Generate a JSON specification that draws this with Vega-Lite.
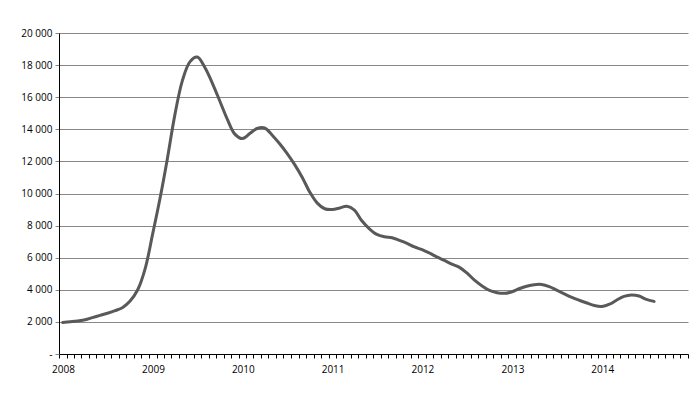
{
  "$schema": "https://vega.github.io/schema/vega-lite/v6.json",
  "width": 629,
  "height": 321,
  "autosize": {"type": "none"},
  "padding": {"left": 59, "top": 33, "right": 12, "bottom": 60},
  "background": "white",
  "config": {
    "view": {"stroke": null},
    "font": "Open Sans"
  },
  "data": {
    "values": [
      {"month": "2008-01-16", "value": 1960},
      {"month": "2008-02-16", "value": 2010},
      {"month": "2008-03-16", "value": 2060},
      {"month": "2008-04-16", "value": 2130},
      {"month": "2008-05-16", "value": 2270},
      {"month": "2008-06-16", "value": 2410},
      {"month": "2008-07-16", "value": 2540},
      {"month": "2008-08-16", "value": 2700},
      {"month": "2008-09-16", "value": 2900},
      {"month": "2008-10-16", "value": 3300},
      {"month": "2008-11-16", "value": 4000},
      {"month": "2008-12-16", "value": 5300},
      {"month": "2009-01-16", "value": 7500},
      {"month": "2009-02-16", "value": 9800},
      {"month": "2009-03-16", "value": 12125},
      {"month": "2009-04-16", "value": 14900},
      {"month": "2009-05-16", "value": 17000},
      {"month": "2009-06-16", "value": 18200},
      {"month": "2009-07-16", "value": 18500},
      {"month": "2009-08-16", "value": 17850},
      {"month": "2009-09-16", "value": 16850},
      {"month": "2009-10-16", "value": 15750},
      {"month": "2009-11-16", "value": 14600},
      {"month": "2009-12-16", "value": 13700},
      {"month": "2010-01-16", "value": 13420},
      {"month": "2010-02-16", "value": 13750},
      {"month": "2010-03-16", "value": 14050},
      {"month": "2010-04-16", "value": 14080},
      {"month": "2010-05-16", "value": 13650},
      {"month": "2010-06-16", "value": 13100},
      {"month": "2010-07-16", "value": 12500},
      {"month": "2010-08-16", "value": 11800},
      {"month": "2010-09-16", "value": 11000},
      {"month": "2010-10-16", "value": 10100},
      {"month": "2010-11-16", "value": 9400},
      {"month": "2010-12-16", "value": 9050},
      {"month": "2011-01-16", "value": 9000},
      {"month": "2011-02-16", "value": 9100},
      {"month": "2011-03-16", "value": 9200},
      {"month": "2011-04-16", "value": 8960},
      {"month": "2011-05-16", "value": 8300},
      {"month": "2011-06-16", "value": 7800},
      {"month": "2011-07-16", "value": 7450},
      {"month": "2011-08-16", "value": 7300},
      {"month": "2011-09-16", "value": 7240},
      {"month": "2011-10-16", "value": 7080},
      {"month": "2011-11-16", "value": 6890},
      {"month": "2011-12-16", "value": 6670},
      {"month": "2012-01-16", "value": 6500},
      {"month": "2012-02-16", "value": 6280},
      {"month": "2012-03-16", "value": 6050},
      {"month": "2012-04-16", "value": 5830},
      {"month": "2012-05-16", "value": 5600},
      {"month": "2012-06-16", "value": 5400},
      {"month": "2012-07-16", "value": 5050},
      {"month": "2012-08-16", "value": 4600},
      {"month": "2012-09-16", "value": 4240},
      {"month": "2012-10-16", "value": 3960},
      {"month": "2012-11-16", "value": 3820},
      {"month": "2012-12-16", "value": 3780},
      {"month": "2013-01-16", "value": 3880},
      {"month": "2013-02-16", "value": 4080},
      {"month": "2013-03-16", "value": 4220},
      {"month": "2013-04-16", "value": 4320},
      {"month": "2013-05-16", "value": 4330},
      {"month": "2013-06-16", "value": 4200},
      {"month": "2013-07-16", "value": 3980},
      {"month": "2013-08-16", "value": 3750},
      {"month": "2013-09-16", "value": 3530},
      {"month": "2013-10-16", "value": 3350},
      {"month": "2013-11-16", "value": 3180},
      {"month": "2013-12-16", "value": 3020},
      {"month": "2014-01-16", "value": 2960},
      {"month": "2014-02-16", "value": 3100},
      {"month": "2014-03-16", "value": 3350},
      {"month": "2014-04-16", "value": 3590},
      {"month": "2014-05-16", "value": 3680},
      {"month": "2014-06-16", "value": 3610},
      {"month": "2014-07-16", "value": 3400},
      {"month": "2014-08-16", "value": 3280}
    ]
  },
  "mark": {
    "type": "line",
    "interpolate": "catmull-rom",
    "color": "#595959",
    "strokeWidth": 3,
    "strokeCap": "round"
  },
  "encoding": {
    "x": {
      "field": "month",
      "type": "temporal",
      "title": null,
      "scale": {
        "domain": [
          {"year": 2008, "month": 1, "date": 1},
          {"year": 2015, "month": 1, "date": 1}
        ]
      },
      "axis": {
        "grid": false,
        "tickCount": {"interval": "month", "step": 1},
        "labelExpr": "month(datum.value) == 0 && year(datum.value) < 2015 ? timeFormat(datum.value, '%Y') : ''",
        "labelOverlap": false,
        "labelOffset": 4,
        "labelPadding": 6,
        "labelFontSize": 10,
        "labelColor": "#000000",
        "domainColor": "#000000",
        "tickColor": "#000000",
        "tickSize": 4,
        "labelFlush": false
      }
    },
    "y": {
      "field": "value",
      "type": "quantitative",
      "title": null,
      "scale": {"domain": [0, 20000], "nice": false},
      "axis": {
        "values": [0, 2000, 4000, 6000, 8000, 10000, 12000, 14000, 16000, 18000, 20000],
        "labelExpr": "datum.value == 0 ? '-' : replace(format(datum.value, ','), ',', ' ')",
        "labelFontSize": 10,
        "labelColor": "#000000",
        "labelPadding": 3,
        "domainColor": "#000000",
        "tickColor": "#888888",
        "tickSize": 4,
        "gridColor": "#888888",
        "gridWidth": 1,
        "gridOpacity": 1
      }
    }
  }
}
